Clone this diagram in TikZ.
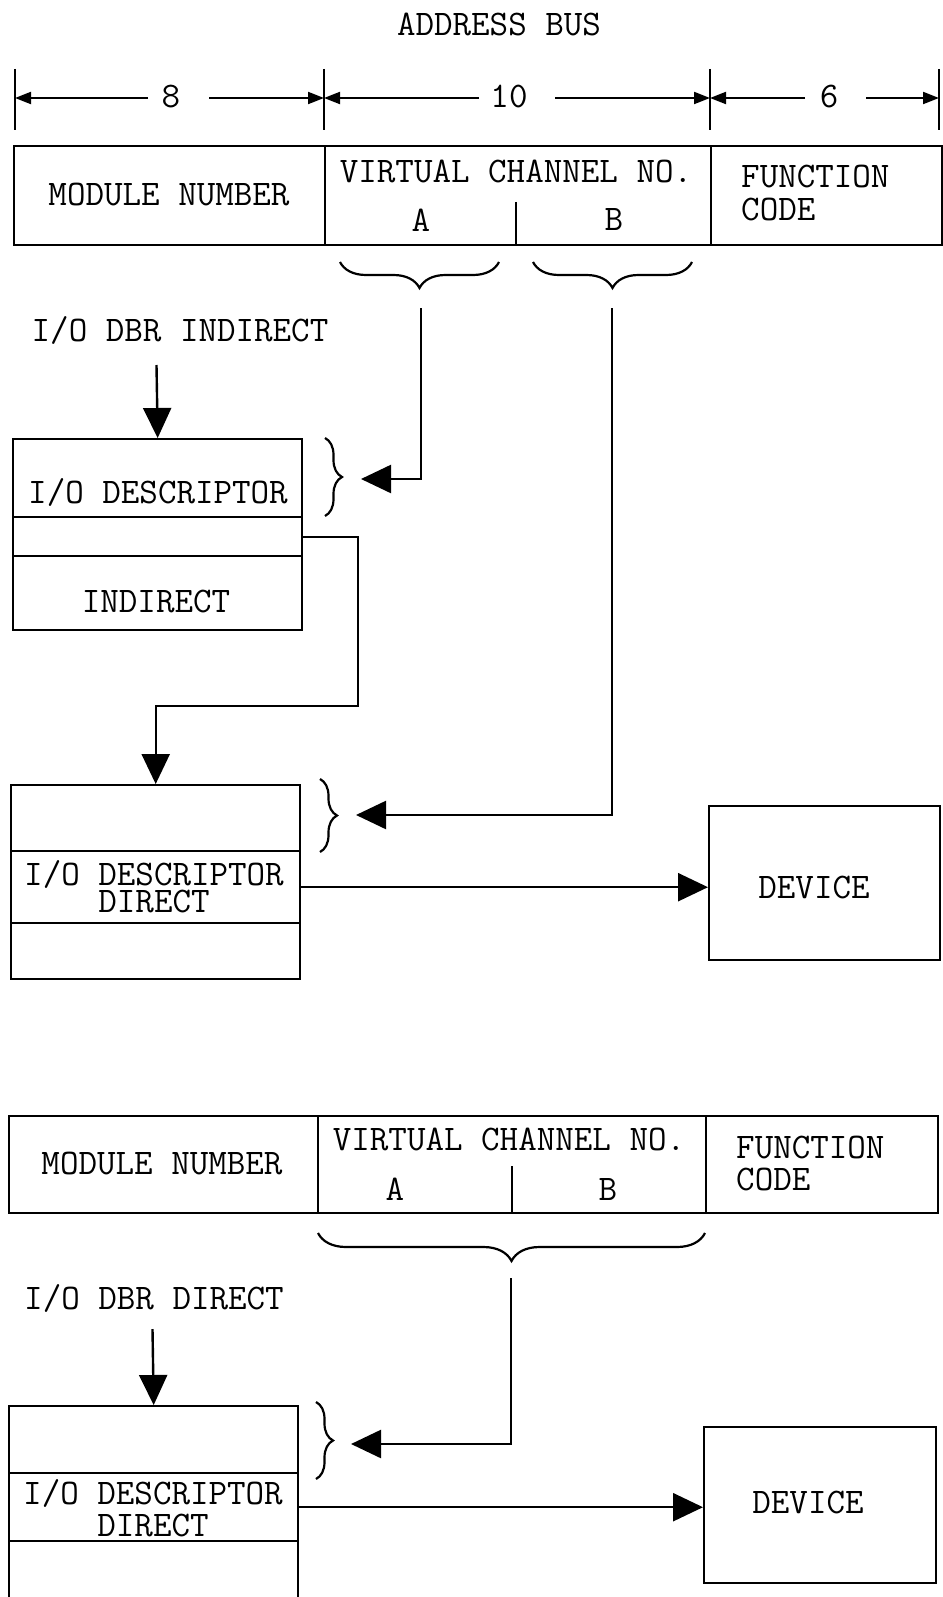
\documentclass[tikz,border=0pt]{standalone}
\usetikzlibrary{arrows.meta,decorations.pathreplacing,calc}
\begin{document}
\begin{tikzpicture}[x=1pt,y=-1pt,
  ln/.style={line width=2.4pt},
  cell/.style={draw,line width=2.4pt,anchor=north west,inner sep=0pt},
  txt/.style={font=\fontsize{36}{40}\selectfont\ttfamily,inner sep=0pt},
  two/.style={inner sep=0pt,font=\fontsize{36}{#1}\selectfont\ttfamily},
  big/.style={-{Triangle[length=30pt,width=28pt]}},
  dim/.style={line width=2pt,-{Triangle[length=16pt,width=12pt]}},
  brc/.style={line width=2.2pt,decorate,decoration={brace,amplitude=#1}}]
\useasboundingbox (0,0) rectangle (942,1597);

% ---------- title and dimensions ----------
\node[txt] (title) at (499,24) {ADDRESS BUS};
\foreach \x in {15,324,710,939} \draw[ln] (\x,69) -- (\x,130);
\node[txt] (n8) at (171,97) {8};
\node[txt] (n10) at (509,97) {10};
\node[txt] (n6) at (829,97) {6};
\draw[dim] (148,98) -- (15,98);
\draw[dim] (209,98) -- (324,98);
\draw[dim] (479,98) -- (324,98);
\draw[dim] (555,98) -- (710,98);
\draw[dim] (805,98) -- (710,98);
\draw[dim] (866,98) -- (939,98);

% ---------- upper register ----------
\node[cell,minimum width=311pt,minimum height=99pt] (mod1) at (13,145) {};
\node[cell,minimum width=386pt,minimum height=99pt] (vcn1) at (324,145) {};
\node[cell,minimum width=231pt,minimum height=99pt] (fc1) at (710,145) {};
\node[txt] at (169,195) {MODULE NUMBER};
\node[txt] at (516,171) {VIRTUAL CHANNEL NO.};
\node[txt] at (421,220) {A};
\node[txt] at (614,220) {B};
\draw[ln] (516,202) -- (516,244);
\node[two=33pt,align=left,anchor=west] at (741,193) {FUNCTION\\CODE};

\draw[brc=26pt] (499,262) -- (340,262);
\draw[brc=26pt] (692,262) -- (533,262);

% ---------- indirect descriptor ----------
\node[txt] (dbr1) at (180,331) {I/O DBR INDIRECT};
\node[cell,minimum width=289pt,minimum height=78pt] (d1a) at (12,438) {};
\node[cell,minimum width=289pt,minimum height=39pt] (d1b) at (12,516) {};
\node[cell,minimum width=289pt,minimum height=74pt] (d1c) at (12,555) {};
\node[txt] at (158,492) {I/O DESCRIPTOR};
\node[txt] at (156,601) {INDIRECT};
\draw[brc=17pt] (325,438) -- (325,516);
\coordinate (s1) at (156.5,365);
\draw[ln,big] (s1) -- (d1a.north);

\coordinate (aTop) at (421,308);
\coordinate (aEnd) at (361,479);
\draw[ln,big] (aTop) |- (aEnd);

% ---------- direct descriptor ----------
\node[cell,minimum width=289pt,minimum height=66pt] (d2a) at (10,784) {};
\node[cell,minimum width=289pt,minimum height=72pt] (d2b) at (10,850) {};
\node[cell,minimum width=289pt,minimum height=56pt] (d2c) at (10,922) {};
\node[two=27pt,align=center] at (154,887) {I/O DESCRIPTOR\\DIRECT};
\draw[brc=17pt] (320,779) -- (320,852);
\draw[ln,big] (d1b.east) -| (358,706) -| (d2a.north);

\coordinate (bTop) at (612,308);
\coordinate (bEnd) at (356,815);
\draw[ln,big] (bTop) |- (bEnd);

\node[cell,minimum width=231pt,minimum height=154pt] (dev1) at (708,805) {};
\node[txt] at (814,887) {DEVICE};
\draw[ln,big] (d2b.east) -- (d2b.east -| dev1.west);

% ---------- lower register ----------
\node[cell,minimum width=309pt,minimum height=97pt] (mod2) at (8,1115) {};
\node[cell,minimum width=388pt,minimum height=97pt] (vcn2) at (317,1115) {};
\node[cell,minimum width=232pt,minimum height=97pt] (fc2) at (705,1115) {};
\node[txt] at (162,1163) {MODULE NUMBER};
\node[txt] at (509,1139) {VIRTUAL CHANNEL NO.};
\node[txt] at (395,1189) {A};
\node[txt] at (608,1189) {B};
\draw[ln] (512,1166) -- (512,1212);
\node[two=32pt,align=left,anchor=west] at (736,1163) {FUNCTION\\CODE};

\draw[brc=28pt] (705,1233) -- (318,1233);

% ---------- lower direct descriptor ----------
\node[txt] (dbr2) at (154,1298) {I/O DBR DIRECT};
\node[cell,minimum width=289pt,minimum height=67pt] (d3a) at (8,1405) {};
\node[cell,minimum width=289pt,minimum height=68pt] (d3b) at (8,1472) {};
\node[cell,minimum width=289pt,minimum height=80pt] (d3c) at (8,1540) {};
\node[two=32pt,align=center] at (153,1508) {I/O DESCRIPTOR\\DIRECT};
\draw[brc=17pt] (316,1402) -- (316,1479);
\coordinate (s3) at (152.5,1329);
\draw[ln,big] (s3) -- (d3a.north);

\coordinate (cTop) at (511,1278);
\coordinate (cEnd) at (351,1444);
\draw[ln,big] (cTop) |- (cEnd);

\node[cell,minimum width=232pt,minimum height=156pt] (dev2) at (703,1426) {};
\node[txt] at (808,1502) {DEVICE};
\draw[ln,big] (d3b.east) -- (d3b.east -| dev2.west);
\end{tikzpicture}
\end{document}
